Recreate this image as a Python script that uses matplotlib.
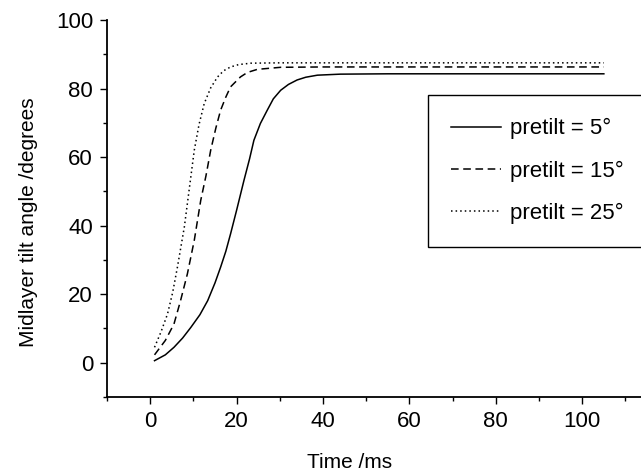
import matplotlib
matplotlib.use("Agg")
import matplotlib.pyplot as plt
from matplotlib.ticker import MultipleLocator

plt.rcParams['font.family'] = ['Liberation Sans', 'DejaVu Sans']

# time (ms) and midlayer tilt angle (degrees)
t_5 = [1, 3.5, 5.5, 7.5, 9.4, 11.5, 13.3, 15, 16.3, 17.5, 18.6, 20, 21.7, 23, 24, 25.5,
       27.1, 28.5, 30.2, 32, 34, 36, 38.7, 44, 55, 105]
a_5 = [0.6, 2.3, 4.5, 7.2, 10.3, 14, 18.1, 23.3, 27.9, 32.5, 37.6, 44.5, 53.2, 59.5, 64.9, 69.8,
       73.7, 77, 79.5, 81.2, 82.5, 83.3, 83.9, 84.2, 84.3, 84.3]

t_15 = [1, 3.5, 5.5, 7, 8.6, 10.2, 11.7, 12.9, 14, 15.2, 16.3, 17.5, 18.6, 20.9, 22.5,
        24.8, 30.2, 40, 105]
a_15 = [2.3, 6.5, 11.3, 18, 25.9, 35.7, 47.4, 54.5, 62, 68.5, 73.7, 77.5, 80.5, 83.4, 84.7,
        85.6, 86.2, 86.3, 86.3]

t_25 = [1, 2.5, 4, 5.2, 6.3, 7.9, 9, 10.2, 11.3, 12.5, 14, 15.6, 17, 18.6, 20.5, 23.3,
        30, 105]
a_25 = [4.5, 9, 14.2, 20.5, 27.9, 39.6, 50.3, 62, 69.5, 75.6, 80.2, 83.4, 85.2, 86.3, 87,
        87.4, 87.5, 87.5]

labels = ['pretilt = 5\u00b0', 'pretilt = 15\u00b0', 'pretilt = 25\u00b0']

fig = plt.figure(figsize=(6.41, 4.73), dpi=100)
ax = fig.add_axes([107/641, 76/473, 1 - 107/641, (397-20)/473])

ax.plot(t_5, a_5, color='black', lw=1.1, ls='-', label=labels[0])
ax.plot(t_15, a_15, color='black', lw=1.1, ls=(0, (5, 3)), label=labels[1])
ax.plot(t_25, a_25, color='black', lw=1.1, ls=(0, (1, 2)), label=labels[2])

ax.set_xlim(-10, 113.6)
ax.set_ylim(-10, 100)
ax.xaxis.set_major_locator(MultipleLocator(20))
ax.xaxis.set_minor_locator(MultipleLocator(10))
ax.yaxis.set_major_locator(MultipleLocator(20))
ax.yaxis.set_minor_locator(MultipleLocator(10))
ax.spines['top'].set_visible(False)
ax.spines['right'].set_visible(False)
ax.spines['left'].set_linewidth(1.3)
ax.spines['bottom'].set_linewidth(1.3)
ax.tick_params(which='major', direction='out', length=5, width=1, labelsize=16, pad=5)
ax.tick_params(which='minor', direction='out', length=3, width=1)

ax.set_xlabel('Time /ms', fontsize=15)
ax.set_ylabel('Midlayer tilt angle /degrees', fontsize=15)
ax.xaxis.set_label_coords(0.455, -0.148)
ax.yaxis.set_label_coords(-0.129, 0.465)

leg = ax.legend(loc='upper left', bbox_to_anchor=(428/641, (473-246)/473, 0.4, (246-95)/473),
                bbox_transform=fig.transFigure, mode='expand', fontsize=16,
                handlelength=2.25, handletextpad=0.4, labelspacing=0.95,
                borderpad=1.05, borderaxespad=0, fancybox=False, framealpha=1)
leg.get_frame().set_edgecolor('black')
leg.get_frame().set_linewidth(1.0)

fig.savefig('out.png', dpi=100)
